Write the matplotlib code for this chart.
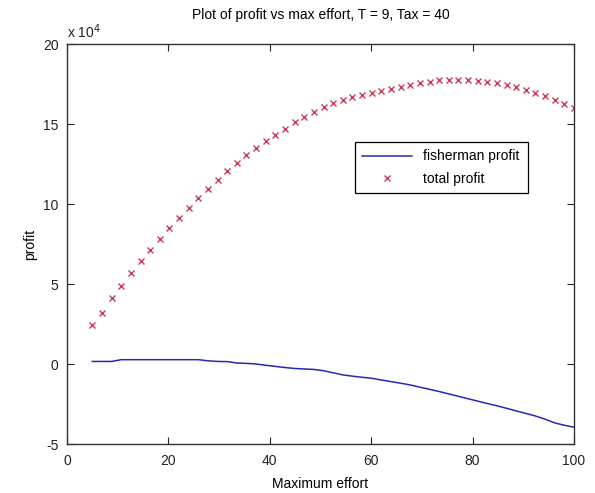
import numpy as np
import matplotlib
matplotlib.use("Agg")
import matplotlib.pyplot as plt
from matplotlib.ticker import FuncFormatter

plt.rcParams["font.family"] = ["Liberation Sans", "DejaVu Sans"]
plt.rcParams["axes.unicode_minus"] = False

# maximum effort levels
effort = [5, 6.9, 8.8, 10.7, 12.6, 14.5, 16.4, 18.3, 20.2, 22.1,
          24, 25.9, 27.8, 29.7, 31.6, 33.5, 35.4, 37.3, 39.2, 41.1,
          43, 44.9, 46.8, 48.7, 50.6, 52.5, 54.4, 56.3, 58.2, 60.1,
          62, 63.9, 65.8, 67.7, 69.6, 71.5, 73.4, 75.3, 77.2, 79.1,
          81, 82.9, 84.8, 86.7, 88.6, 90.5, 92.4, 94.3, 96.2, 98.1, 100]

# profits in units of 1e4
fisherman = [0.16, 0.16, 0.16, 0.27, 0.27, 0.27, 0.27, 0.27, 0.27, 0.27,
             0.27, 0.27, 0.20, 0.16, 0.15, 0.06, 0.04, 0.00, -0.08, -0.15,
             -0.22, -0.28, -0.31, -0.34, -0.42, -0.55, -0.68, -0.76, -0.83, -0.89,
             -1.00, -1.10, -1.20, -1.31, -1.45, -1.58, -1.72, -1.87, -2.02, -2.17,
             -2.32, -2.47, -2.61, -2.77, -2.93, -3.09, -3.25, -3.45, -3.68, -3.83, -3.95]
total = [2.41, 3.21, 4.10, 4.89, 5.69, 6.41, 7.12, 7.83, 8.48, 9.10,
         9.75, 10.39, 10.96, 11.52, 12.08, 12.56, 13.04, 13.52, 13.91, 14.31,
         14.71, 15.12, 15.44, 15.77, 16.08, 16.31, 16.52, 16.68, 16.82, 16.95,
         17.07, 17.19, 17.31, 17.43, 17.54, 17.64, 17.72, 17.76, 17.77, 17.75,
         17.71, 17.64, 17.55, 17.43, 17.29, 17.13, 16.95, 16.75, 16.53, 16.28, 15.98]

fisherman = np.array(fisherman) * 1e4
total = np.array(total) * 1e4

fig = plt.figure(figsize=(5.95, 4.93), dpi=100)
ax = fig.add_axes([67 / 595, 1 - 444 / 493, 507 / 595, 400 / 493])

ax.plot(effort, fisherman, "-", color="#2828b4", lw=1.1, label="fisherman profit")
ax.plot(effort, total, "x", color="#cc3a5c", ms=5, mew=1.0, label="total profit")

ax.set_xlim(0, 100)
ax.set_ylim(-5e4, 20e4)
ax.set_xticks([0, 20, 40, 60, 80, 100])
ax.set_yticks(np.arange(-5e4, 20.1e4, 5e4))

# y labels in units of 10^4, exponent written above the axis
ax.yaxis.set_major_formatter(FuncFormatter(lambda v, p: f"{v / 1e4:g}"))
ax.text(0.0, 1.008, r"x 10$^{4}$", transform=ax.transAxes, fontsize=10,
        ha="left", va="bottom", color="#222222")

ax.tick_params(direction="in", length=5, width=0.8, labelsize=10,
               top=True, right=True, colors="#222222")
ax.tick_params(axis="x", pad=7)
ax.tick_params(axis="y", pad=6)
for s in ax.spines.values():
    s.set_linewidth(1.0)
    s.set_color("#333333")

ax.set_title("Plot of profit vs max effort, T = 9, Tax = 40", fontsize=10, pad=18)
ax.set_xlabel("Maximum effort", fontsize=10, labelpad=7)
ax.set_ylabel("profit", fontsize=10, labelpad=4)

leg = ax.legend(loc="upper right", bbox_to_anchor=(0.922, 0.773), fontsize=10,
                fancybox=False, framealpha=1, edgecolor="black",
                handlelength=3.6, borderpad=0.55, labelspacing=0.6)
leg.get_frame().set_linewidth(0.9)

fig.savefig("out.png", dpi=100, facecolor="white")
